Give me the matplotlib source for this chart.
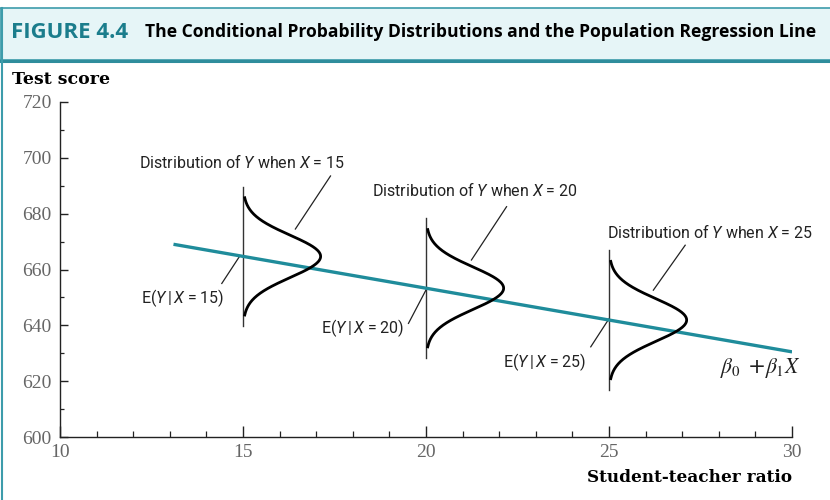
import numpy as np
import matplotlib.pyplot as plt
from matplotlib.patches import Rectangle
from matplotlib.lines import Line2D

plt.rcParams['mathtext.fontset'] = 'custom'
plt.rcParams['mathtext.rm'] = 'Roboto'
plt.rcParams['mathtext.it'] = 'Roboto:italic'

# population regression line: E(Y|X) = beta0 + beta1 * X
beta0 = 698.9
beta1 = -2.28
line_x = [13.1, 30.0]

# conditional distributions
dist_x = [15, 20, 25]
dist_sigma = 7.6
dist_span = 21.0
dist_peak = 2.12
vline_span = 25.0

x_ticks = [10, 15, 20, 25, 30]
y_ticks = [600, 620, 640, 660, 680, 700, 720]

teal = '#1f8c9b'
serif = ['Liberation Serif', 'DejaVu Serif']
sans = ['Roboto', 'DejaVu Sans']

fig = plt.figure(figsize=(8.3, 5), dpi=100)
ax = fig.add_axes([0.0723, 0.126, 0.882, 0.67])

# title band
fig.patches.append(Rectangle((0.0, 0.88), 1.02, 0.104, transform=fig.transFigure,
                             facecolor='#e6f5f7', edgecolor='#3d9cab', linewidth=1.2))
fig.add_artist(Line2D([0, 1], [0.879, 0.879], transform=fig.transFigure, color='#2f8d9c', linewidth=2.2))
fig.add_artist(Line2D([0.002, 0.002], [0, 0.984], transform=fig.transFigure, color='#3d9cab', linewidth=1.5))
fig.text(0.013, 0.936, 'FIGURE 4.4', color='#1b7d8c', fontsize=16, fontweight='bold',
         family='Open Sans', va='center', ha='left')
fig.text(0.175, 0.936, 'The Conditional Probability Distributions and the Population Regression Line',
         color='black', fontsize=12.6, fontweight='bold', family='Open Sans', va='center', ha='left')

# regression line
lx = np.array(line_x)
ax.plot(lx, beta0 + beta1 * lx, color=teal, linewidth=2.4, zorder=3, solid_capstyle='butt')

# distributions
for xc in dist_x:
    mu = beta0 + beta1 * xc
    ax.plot([xc, xc], [mu - vline_span, mu + vline_span], color='#333333', linewidth=1.0, zorder=2)
    yy = np.linspace(mu - dist_span, mu + dist_span, 200)
    xx = xc + dist_peak * np.exp(-(yy - mu) ** 2 / (2 * dist_sigma ** 2))
    ax.plot(xx, yy, color='black', linewidth=2.0, zorder=4)

# labels with leader lines
ann_kw = dict(fontsize=11.5, family=sans, color='#222222')
leader = dict(color='#222222', linewidth=0.9)
cond = 'E($\\mathit{{Y}}\\,|\\,\\mathit{{X}}$ = {})'

ax.text(14.96, 698.5, 'Distribution of $\\mathit{Y}$ when $\\mathit{X}$ = 15', ha='center', va='center', **ann_kw)
ax.plot([17.39, 16.43], [693.5, 674.5], **leader)
ax.text(14.48, 649.7, cond.format(15), ha='right', va='center', **ann_kw)
ax.plot([14.42, 14.9], [655.0, 664.6], **leader)

ax.text(21.34, 688.5, 'Distribution of $\\mathit{Y}$ when $\\mathit{X}$ = 20', ha='center', va='center', **ann_kw)
ax.plot([22.2, 21.24], [682.5, 663.4], **leader)
ax.text(19.40, 639.0, cond.format(20), ha='right', va='center', **ann_kw)
ax.plot([19.52, 20.02], [640.7, 653.2], **leader)

ax.text(27.76, 673.4, 'Distribution of $\\mathit{Y}$ when $\\mathit{X}$ = 25', ha='center', va='center', **ann_kw)
ax.plot([27.08, 26.21], [668.7, 652.6], **leader)
ax.text(24.37, 626.8, cond.format(25), ha='right', va='center', **ann_kw)
ax.plot([24.5, 25.0], [632.3, 642.4], **leader)

ax.text(28.03, 624.7, '$\\beta_0$ +$\\beta_1 X$', ha='left', va='center', fontsize=15.5,
        color='#222222', math_fontfamily='stix')

# axes styling
ax.set_xlim(10, 30)
ax.set_ylim(600, 720)
for side in ['top', 'right']:
    ax.spines[side].set_visible(False)
for side in ['left', 'bottom']:
    ax.spines[side].set_color('#222222')
    ax.spines[side].set_linewidth(1.0)

ax.set_xticks(x_ticks)
ax.set_xticklabels([str(v) for v in x_ticks])
ax.set_xticks(np.arange(10, 31, 1), minor=True)
ax.set_yticks(y_ticks)
ax.set_yticklabels([str(v) for v in y_ticks])
ax.set_yticks(np.arange(600, 721, 10), minor=True)

ax.tick_params(axis='x', which='major', direction='in', length=8, width=1.0, pad=5, color='#222222')
ax.tick_params(axis='x', which='minor', direction='in', length=4, width=0.9, color='#222222')
ax.tick_params(axis='y', which='major', direction='in', length=6, width=1.0, pad=6, color='#222222')
ax.tick_params(axis='y', which='minor', direction='in', length=3, width=0.9, color='#222222')
for lab in ax.get_xticklabels() + ax.get_yticklabels():
    lab.set_family(serif)
    lab.set_fontsize(14)
    lab.set_color('#666666')

fig.text(0.014, 0.84, 'Test score', fontsize=12.5, fontweight='bold', family='DejaVu Serif',
         ha='left', va='center')
fig.text(0.954, 0.044, 'Student-teacher ratio', fontsize=12.2, fontweight='bold', family='DejaVu Serif',
         ha='right', va='center')

fig.savefig('out.png', dpi=100)
